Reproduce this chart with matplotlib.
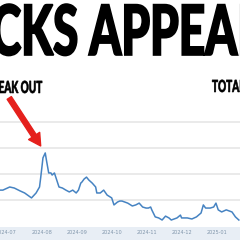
import numpy as np
import pandas as pd
import matplotlib
matplotlib.use("Agg")
import matplotlib.pyplot as plt
from matplotlib import patheffects
from matplotlib.patches import Rectangle
from matplotlib.transforms import Affine2D

dates = ["2024-06-25", "2024-06-28", "2024-07-04", "2024-07-08", "2024-07-13", "2024-07-17",
         "2024-07-23", "2024-07-27", "2024-07-30", "2024-07-31", "2024-08-01", "2024-08-02",
         "2024-08-04", "2024-08-05", "2024-08-07", "2024-08-09", "2024-08-10", "2024-08-12",
         "2024-08-14", "2024-08-16", "2024-08-19", "2024-08-22", "2024-08-25", "2024-08-28",
         "2024-08-31", "2024-09-02", "2024-09-04", "2024-09-05", "2024-09-07", "2024-09-09",
         "2024-09-11", "2024-09-14", "2024-09-17", "2024-09-18", "2024-09-21", "2024-09-24",
         "2024-09-27", "2024-10-01", "2024-10-03", "2024-10-06", "2024-10-08", "2024-10-10",
         "2024-10-15", "2024-10-19", "2024-10-22", "2024-10-25", "2024-10-28", "2024-10-31",
         "2024-11-02", "2024-11-04", "2024-11-05", "2024-11-08", "2024-11-11", "2024-11-14",
         "2024-11-17", "2024-11-20", "2024-11-22", "2024-11-27", "2024-11-30", "2024-12-01",
         "2024-12-06", "2024-12-10", "2024-12-14", "2024-12-18", "2024-12-20", "2024-12-22",
         "2024-12-26", "2024-12-29", "2024-12-31", "2025-01-02", "2025-01-05", "2025-01-09",
         "2025-01-14", "2025-01-17", "2025-01-20"]
values = [138, 138, 150, 146, 135, 127,
          108, 127, 150, 185, 223, 262,
          281, 254, 204, 204, 196, 204,
          177, 150, 146, 138, 131, 138,
          127, 138, 165, 169, 181, 188,
          177, 165, 150, 127, 127, 138,
          119, 108, 81, 92, 96, 96,
          88, 77, 81, 88, 73, 69,
          69, 73, 62, 35, 31, 23,
          38, 31, 23, 31, 42, 31,
          31, 27, 35, 50, 81, 69,
          69, 73, 88, 62, 54, 62,
          54, 35, 23]
month_ticks = ["2024-07", "2024-08", "2024-09", "2024-10", "2024-11", "2024-12", "2025-01"]
grid_levels = [100, 200, 300, 400]

title = "STOCKS APPEAR"
left_note = "BREAK OUT"
right_note = "TOTAL"

blue = "#4683c2"
red = "#e5201c"


class Squeeze(patheffects.AbstractPathEffect):
    # narrow the glyphs sideways around x0 (pixels) and fatten them a bit,
    # so the text looks like a condensed poster font
    def __init__(self, sx, x0, fatten=0.0):
        super().__init__()
        self.sx = sx
        self.x0 = x0
        self.fatten = fatten

    def draw_path(self, renderer, gc, tpath, affine, rgbFace=None):
        sq = Affine2D().translate(-self.x0, 0).scale(self.sx, 1).translate(self.x0, 0)
        gc0 = renderer.new_gc()
        gc0.copy_properties(gc)
        if self.fatten > 0:
            gc0.set_linewidth(self.fatten)
            gc0.set_foreground(rgbFace)
            gc0.set_joinstyle("miter")
        renderer.draw_path(gc0, tpath, affine + sq, rgbFace)
        gc0.restore()


W = H = 240
fig = plt.figure(figsize=(2.4, 2.4), dpi=100)
fig.patch.set_facecolor("white")

x = pd.to_datetime(dates)
ax = fig.add_axes([0, 13 / H, 1, (227 - 115) / H])
ax.plot(x, values, color=blue, lw=1.1, solid_joinstyle="round")
ax.set_xlim(pd.Timestamp("2024-06-25 12:00"), pd.Timestamp("2025-01-21"))
ax.set_ylim(-3.85, 426.9)
ax.set_yticks(grid_levels)
ax.set_yticklabels([])
ax.yaxis.grid(True, color="#e4e4e4", lw=1.1)
ax.tick_params(axis="y", length=0)
ax.set_xticks(pd.to_datetime([m + "-01" for m in month_ticks]))
ax.set_xticklabels(month_ticks, fontsize=3.6, color="#8196ab")
ax.tick_params(axis="x", length=0, pad=2.2)
for s in ax.spines.values():
    s.set_visible(False)
ax.set_facecolor("none")
ax.set_axisbelow(True)

fig.add_artist(Rectangle((0, 0), 1, 13 / H, transform=fig.transFigure,
                         facecolor="#e8eef5", edgecolor="none", zorder=-1))

fig.text(84 / W, 1 - 55 / H, title, fontsize=50, family="Lato", weight="black",
         ha="center", va="baseline", color="black",
         path_effects=[Squeeze(0.66, 84, fatten=1.2)])
fig.text(42 / W, 1 - 93 / H, left_note, fontsize=12, family="Lato", weight="black",
         ha="right", va="baseline", color="black",
         path_effects=[Squeeze(0.6, 42, fatten=0.4)])
fig.text(212 / W, 1 - 92 / H, right_note, fontsize=12, family="Lato", weight="black",
         ha="left", va="baseline", color="black",
         path_effects=[Squeeze(0.6, 212, fatten=0.4)])

peak = int(np.argmax(values))
ax.annotate("", xy=(x[peak], values[peak]), xytext=(-36, 55), textcoords="offset pixels",
            arrowprops=dict(arrowstyle="simple,head_length=0.86,head_width=0.95,tail_width=0.36",
                            color=red, mutation_scale=10, shrinkA=0, shrinkB=6),
            annotation_clip=False)

fig.savefig("out.png", dpi=100)
